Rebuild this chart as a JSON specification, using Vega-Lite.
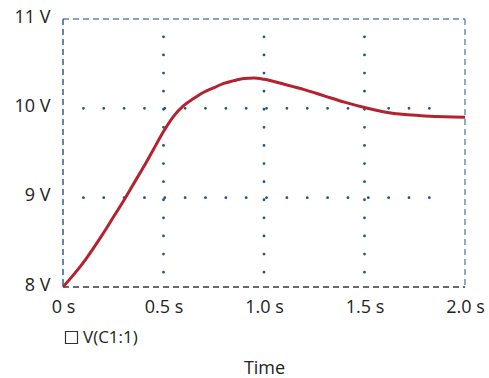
{
  "$schema": "https://vega.github.io/schema/vega-lite/v6.json",
  "autosize": {"type": "none"},
  "width": 402,
  "height": 268,
  "padding": {"left": 63, "top": 19, "right": 24, "bottom": 91},
  "background": "white",
  "config": {
    "view": {"stroke": null},
    "font": "Open Sans",
    "text": {"font": "Open Sans"}
  },
  "resolve": {"scale": {"color": "independent"}},
  "datasets": {
    "curve": [
      {"t": 0.0, "v": 8.0, "series": "V(C1:1)"},
      {"t": 0.05, "v": 8.13, "series": "V(C1:1)"},
      {"t": 0.1, "v": 8.27, "series": "V(C1:1)"},
      {"t": 0.15, "v": 8.43, "series": "V(C1:1)"},
      {"t": 0.2, "v": 8.6, "series": "V(C1:1)"},
      {"t": 0.25, "v": 8.78, "series": "V(C1:1)"},
      {"t": 0.3, "v": 8.96, "series": "V(C1:1)"},
      {"t": 0.35, "v": 9.15, "series": "V(C1:1)"},
      {"t": 0.4, "v": 9.34, "series": "V(C1:1)"},
      {"t": 0.45, "v": 9.54, "series": "V(C1:1)"},
      {"t": 0.5, "v": 9.74, "series": "V(C1:1)"},
      {"t": 0.55, "v": 9.91, "series": "V(C1:1)"},
      {"t": 0.6, "v": 10.03, "series": "V(C1:1)"},
      {"t": 0.65, "v": 10.11, "series": "V(C1:1)"},
      {"t": 0.7, "v": 10.18, "series": "V(C1:1)"},
      {"t": 0.75, "v": 10.23, "series": "V(C1:1)"},
      {"t": 0.8, "v": 10.28, "series": "V(C1:1)"},
      {"t": 0.85, "v": 10.31, "series": "V(C1:1)"},
      {"t": 0.9, "v": 10.335, "series": "V(C1:1)"},
      {"t": 0.95, "v": 10.34, "series": "V(C1:1)"},
      {"t": 1.0, "v": 10.325, "series": "V(C1:1)"},
      {"t": 1.05, "v": 10.3, "series": "V(C1:1)"},
      {"t": 1.1, "v": 10.27, "series": "V(C1:1)"},
      {"t": 1.15, "v": 10.24, "series": "V(C1:1)"},
      {"t": 1.2, "v": 10.21, "series": "V(C1:1)"},
      {"t": 1.3, "v": 10.14, "series": "V(C1:1)"},
      {"t": 1.4, "v": 10.07, "series": "V(C1:1)"},
      {"t": 1.5, "v": 10.01, "series": "V(C1:1)"},
      {"t": 1.6, "v": 9.96, "series": "V(C1:1)"},
      {"t": 1.7, "v": 9.93, "series": "V(C1:1)"},
      {"t": 1.8, "v": 9.915, "series": "V(C1:1)"},
      {"t": 1.9, "v": 9.905, "series": "V(C1:1)"},
      {"t": 2.0, "v": 9.9, "series": "V(C1:1)"}
    ],
    "hgrid": [
      {"v": 9, "t1": 0.1015, "t2": 1.83},
      {"v": 10, "t1": 0.1015, "t2": 1.83}
    ],
    "vgrid": [
      {"t": 0.5, "v1": 10.8, "v2": 8.15},
      {"t": 1.0, "v1": 10.8, "v2": 8.15},
      {"t": 1.5, "v1": 10.8, "v2": 8.15}
    ],
    "border": [
      {"side": "top", "ta": 0, "tb": 2, "va": 11, "vb": 11},
      {"side": "left", "ta": 0, "tb": 0, "va": 11, "vb": 8},
      {"side": "right", "ta": 2, "tb": 2, "va": 11, "vb": 8},
      {"side": "bottom", "ta": 0, "tb": 2, "va": 8, "vb": 8}
    ]
  },
  "layer": [
    {
      "data": {"name": "hgrid"},
      "mark": {"type": "rule", "color": "#1a5587", "strokeWidth": 2.8, "strokeDash": [0, 20.35], "strokeCap": "round"},
      "encoding": {
        "x": {"field": "t1", "type": "quantitative", "scale": {"domain": [0, 2], "nice": false},
          "axis": {
            "values": [0, 0.5, 1, 1.5, 2],
            "labelExpr": "datum.value == 0 ? '0 s' : format(datum.value, '.1f') + ' s'",
            "domain": false,
            "ticks": false,
            "grid": false,
            "labelFont": "Open Sans",
            "labelFontSize": 18,
            "labelColor": "#222",
            "labelPadding": 11,
            "labelFlush": false,
            "title": "Time",
            "titleFont": "Open Sans",
            "titleFontSize": 18,
            "titleFontWeight": "normal",
            "titleColor": "#222",
            "titlePadding": 43
          }},
        "x2": {"field": "t2"},
        "y": {"field": "v", "type": "quantitative", "scale": {"domain": [8, 11], "nice": false},
          "axis": {
            "values": [8, 9, 10, 11],
            "labelExpr": "datum.value + ' V'",
            "domain": false,
            "ticks": false,
            "grid": false,
            "labelFont": "Open Sans",
            "labelFontSize": 18,
            "labelColor": "#222",
            "labelPadding": 13,
            "labelOffset": -2,
            "title": null
          }}
      }
    },
    {
      "data": {"name": "vgrid"},
      "mark": {"type": "rule", "color": "#1a5587", "strokeWidth": 2.8, "strokeDash": [0, 18.1], "strokeCap": "round"},
      "encoding": {
        "x": {"field": "t", "type": "quantitative"},
        "y": {"field": "v1", "type": "quantitative"},
        "y2": {"field": "v2"}
      }
    },
    {
      "data": {"name": "border"},
      "mark": {"type": "rule", "strokeWidth": 1.5, "strokeDash": [6, 4]},
      "encoding": {
        "x": {"field": "ta", "type": "quantitative"},
        "x2": {"field": "tb"},
        "y": {"field": "va", "type": "quantitative"},
        "y2": {"field": "vb"},
        "color": {
          "field": "side",
          "type": "nominal",
          "scale": {"domain": ["top", "left", "right", "bottom"], "range": ["#5f86ad", "#2f5f8c", "#6a90b5", "#3a3a3a"]},
          "legend": null
        }
      }
    },
    {
      "data": {"name": "curve"},
      "mark": {"type": "line", "strokeWidth": 3, "interpolate": "monotone", "color": "#b5222f"},
      "encoding": {
        "x": {"field": "t", "type": "quantitative"},
        "y": {"field": "v", "type": "quantitative"},
        "opacity": {
          "field": "series",
          "type": "nominal",
          "scale": {"range": [1]},
          "legend": {
            "orient": "none",
            "legendX": 0,
            "legendY": 310,
            "title": null,
            "padding": 0,
            "symbolType": "square",
            "symbolSize": 144,
            "symbolStrokeColor": "#333",
            "symbolFillColor": "transparent",
            "symbolStrokeWidth": 1.2,
            "labelFont": "Open Sans",
            "labelFontSize": 17,
            "labelColor": "#222",
            "labelOffset": 3,
            "encode": {
              "symbols": {
                "enter": {"stroke": {"value": "#333"}, "fill": {"value": "transparent"}},
                "update": {"stroke": {"value": "#333"}, "fill": {"value": "transparent"}}
              }
            }
          }
        }
      }
    }
  ]
}
